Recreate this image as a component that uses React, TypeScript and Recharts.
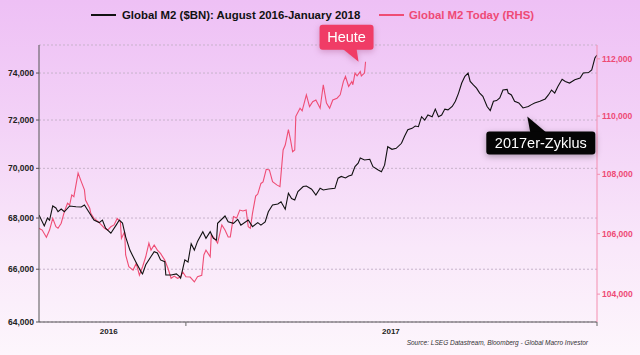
import React from "react";
import { LineChart, Line, XAxis, YAxis, CartesianGrid, ReferenceDot } from "recharts";

// Global M2 ($BN): August 2016 - January 2018 (left axis), day index from mid-Aug 2016
const blackDays = [0,5,8,10,13,16,18,21,24,29,35,40,43,46,49,52,57,60,63,68,73,76,79,82,86,89,92,97,98,101,106,109,112,115,119,120,125,130,133,134,138,141,144,147,150,155,158,162,165,168,169,176,179,184,188,191,198,202,207,210,214,217,221,226,229,233,236,239,242,245,250,253,258,262,266,269,274,280,283,286,290,293,296,299,302,304,308,313,316,321,324,327,330,334,338,343,346,349,353,356,359,362,365,368,372,375,378,381,384,387,391,394,397,400,403,406,408,411,414,417,420,424,427,430,433,436,439,443,444,447,450,454,458,463,466,469,474,479,482,485,488,491,495,498,502,507,512,515,520,523,526,528];
const blackValues = [68120,67690,68000,67920,68480,68400,68250,68360,68250,68480,68450,68440,68520,68320,68120,67920,67820,67920,67600,67400,67720,67920,67800,67260,66740,66490,66250,65870,65820,66170,66490,66680,66630,66360,66290,65780,65780,65820,65720,65660,66360,66280,66990,66740,67080,67460,67200,67460,67200,67130,67790,68080,67850,67790,67950,67720,67920,67660,67820,67720,67850,68250,68520,68560,68650,68350,68990,68780,68720,69060,69260,69280,69150,68920,69190,69120,69160,69190,69600,69670,69610,69690,69730,70070,70210,70420,70340,70370,70070,69930,69860,70130,70890,70780,70820,71030,71330,71590,71650,71750,71720,72140,72000,72210,72140,72460,72140,72210,72460,72430,72570,72790,73140,73570,73860,74000,73640,73490,73350,73140,73000,72570,72400,72790,72820,72930,73270,73300,73140,73060,72790,72720,72510,72570,72650,72720,72790,72890,73060,73270,73140,73420,73730,73640,73570,73710,73780,74000,74020,74130,74650,74780];

// Global M2 Today (RHS)
const redDays = [0,3,7,10,13,16,18,21,24,27,29,31,33,37,40,43,44,48,49,52,56,59,62,65,68,71,74,77,78,81,82,85,89,92,95,98,101,104,106,109,112,115,119,122,125,128,131,134,136,139,143,147,150,154,156,158,162,163,166,169,173,176,179,181,184,187,190,193,196,198,200,202,205,207,210,212,215,218,221,225,228,231,233,236,238,240,242,243,247,249,253,256,259,262,266,269,272,275,278,282,285,288,290,293,296,297,299,301,304,305,308,309];
const redValues = [106180,106120,105880,106120,106510,106230,106180,106350,106740,107020,106960,107300,107240,108040,107750,107470,107130,106850,106680,106510,106400,106290,106180,106120,106230,106290,106510,106400,105840,106060,105290,104900,104790,105010,104620,104900,105230,105680,105450,105620,105450,105340,105120,104850,104520,104590,104520,104560,104730,104570,104560,104400,104570,104620,105290,105450,105230,105950,105840,105680,106290,106120,105890,105890,106570,106520,106790,106760,106790,106230,106180,106680,107260,107330,107690,107740,108170,108150,107750,107640,107580,108830,109000,109530,109180,108770,108830,109990,110270,110180,110740,110330,110500,110560,110270,111090,110450,110270,110560,110620,110740,111200,111380,111030,111200,111090,111500,111400,111550,111400,111500,111900];

const leftTicks = [64000, 66000, 68000, 70000, 72000, 74000];
const rightTicks = [104000, 106000, 108000, 110000, 112000];
const yearLabels = ["2016", "2017"];
const yearLabelDays = [66, 333];
const yearBoundaryDays = [139, 528];

const legendBlack = "Global M2 ($BN): August 2016-January 2018";
const legendRed = "Global M2 Today (RHS)";
const calloutToday = "Heute";
const calloutCycle = "2017er-Zyklus";
const cycleAnchorDay = 463;
const sourceText = "Source: LSEG Datastream, Bloomberg - Global Macro Investor";

const blackData = blackDays.map((d, i) => ({ d, v: blackValues[i] }));
const redData = redDays.map((d, i) => ({ d, v: redValues[i] }));

const FONT = '"Liberation Sans", Arial, Helvetica, sans-serif';
const RED = "#ef4d75";
const RED_TEXT = "#ee4a75";

const fmt = (v: number) => v.toLocaleString("en-US");

const XTick = (props: any) => {
  const { x, y, payload } = props;
  const v = payload.value;
  const bi = yearBoundaryDays.indexOf(v);
  if (bi >= 0) {
    return <line x1={x} x2={x} y1={y} y2={y + 4} stroke="#666" strokeWidth={1} />;
  }
  const li = yearLabelDays.indexOf(v);
  if (li >= 0) {
    return (
      <text x={x} y={y + 12} textAnchor="middle" fontSize={8} fontWeight={700} fill="#222" fontFamily={FONT}>
        {yearLabels[li]}
      </text>
    );
  }
  return null;
};

const HeuteShape = (props: any) => {
  const { cx, cy } = props;
  if (cx == null || cy == null) return null;
  return (
    <g style={{ filter: "drop-shadow(0px 2px 3px rgba(120,0,60,0.25))" }}>
      <rect x={cx - 46} y={cy - 37} width={54} height={25} rx={3} fill="#f03c66" />
      <polygon points={`${cx - 23},${cy - 13} ${cx - 9},${cy - 13} ${cx - 7},${cy}`} fill="#f03c66" />
      <text x={cx - 19} y={cy - 19.5} textAnchor="middle" fontSize={14.5} fill="#fff" fontFamily={FONT}>
        {calloutToday}
      </text>
    </g>
  );
};

const CycleShape = (props: any) => {
  const { cx, cy } = props;
  if (cx == null || cy == null) return null;
  return (
    <g style={{ filter: "drop-shadow(0px 2px 3px rgba(0,0,0,0.3))" }}>
      <polygon points={`${cx - 1},${cy + 10} ${cx + 2},${cy + 26} ${cx + 18},${cy + 26}`} fill="#050505" />
      <rect x={cx - 42} y={cy + 25} width={109} height={23} rx={3} fill="#050505" />
      <text x={cx + 12.5} y={cy + 41.5} textAnchor="middle" fontSize={14.5} fill="#fff" fontFamily={FONT}>
        {calloutCycle}
      </text>
    </g>
  );
};

export default function App() {
  const cycleIdx = blackDays.indexOf(cycleAnchorDay);
  const lastRed = redData[redData.length - 1];
  return (
    <div
      style={{
        position: "absolute",
        left: 0,
        top: 0,
        width: 640,
        height: 355,
        background: "linear-gradient(180deg, #eec0f5 0%, #f3d2f7 35%, #f9e8fa 70%, #fdf6fc 100%)",
        fontFamily: FONT,
        overflow: "hidden",
      }}
    >
      <div style={{ position: "absolute", left: 91, top: 7, display: "flex", alignItems: "center", height: 16 }}>
        <div style={{ width: 25, height: 1.4, background: "#111", marginRight: 6 }} />
        <span style={{ fontSize: 11.4, fontWeight: 700, color: "#111", whiteSpace: "nowrap" }}>{legendBlack}</span>
      </div>
      <div style={{ position: "absolute", left: 379, top: 7, display: "flex", alignItems: "center", height: 16 }}>
        <div style={{ width: 25, height: 1.4, background: RED, marginRight: 5 }} />
        <span style={{ fontSize: 11.4, fontWeight: 700, color: RED_TEXT, whiteSpace: "nowrap" }}>{legendRed}</span>
      </div>
      <LineChart width={640} height={355} margin={{ top: 45, right: 0, bottom: 0, left: 0 }}>
        <CartesianGrid yAxisId="left" vertical={false} strokeDasharray="2 2" stroke="#c7b2cb" />
        <XAxis
          type="number"
          dataKey="d"
          domain={[0, 528]}
          allowDataOverflow
          ticks={[...yearLabelDays, ...yearBoundaryDays].sort((a, b) => a - b)}
          interval={0}
          tick={<XTick />}
          tickLine={false}
          tickSize={0}
          tickMargin={0}
          axisLine={{ stroke: "#555", strokeWidth: 1 }}
          height={33}
        />
        <YAxis
          yAxisId="left"
          orientation="left"
          scale="log"
          domain={[64000, 75220]}
          allowDataOverflow
          ticks={leftTicks}
          interval={0}
          tickFormatter={fmt}
          width={39}
          tickSize={3}
          tickMargin={2}
          axisLine={{ stroke: "#555" }}
          tickLine={{ stroke: "#555" }}
          tick={{ fontSize: 8.5, fontWeight: 700, fill: "#222", fontFamily: FONT }}
        />
        <YAxis
          yAxisId="right"
          orientation="right"
          scale="log"
          domain={[103090, 112490]}
          allowDataOverflow
          ticks={rightTicks}
          interval={0}
          tickFormatter={fmt}
          width={43}
          tickSize={3}
          tickMargin={2}
          axisLine={{ stroke: "#f48fb0" }}
          tickLine={{ stroke: "#f48fb0" }}
          tick={{ fontSize: 8.5, fontWeight: 700, fill: RED_TEXT, fontFamily: FONT }}
        />
        <Line
          yAxisId="right"
          data={redData}
          dataKey="v"
          type="linear"
          stroke={RED}
          strokeWidth={1.1}
          dot={false}
          isAnimationActive={false}
        />
        <Line
          yAxisId="left"
          data={blackData}
          dataKey="v"
          type="linear"
          stroke="#111"
          strokeWidth={1.1}
          dot={false}
          isAnimationActive={false}
        />
        <ReferenceDot yAxisId="right" x={lastRed.d} y={lastRed.v} shape={HeuteShape} />
        <ReferenceDot yAxisId="left" x={blackDays[cycleIdx]} y={blackValues[cycleIdx]} shape={CycleShape} />
      </LineChart>
      <div
        style={{
          position: "absolute",
          right: 52,
          top: 338,
          fontSize: 6.5,
          fontStyle: "italic",
          color: "#333",
          whiteSpace: "nowrap",
          lineHeight: "9px",
        }}
      >
        {sourceText}
      </div>
    </div>
  );
}
